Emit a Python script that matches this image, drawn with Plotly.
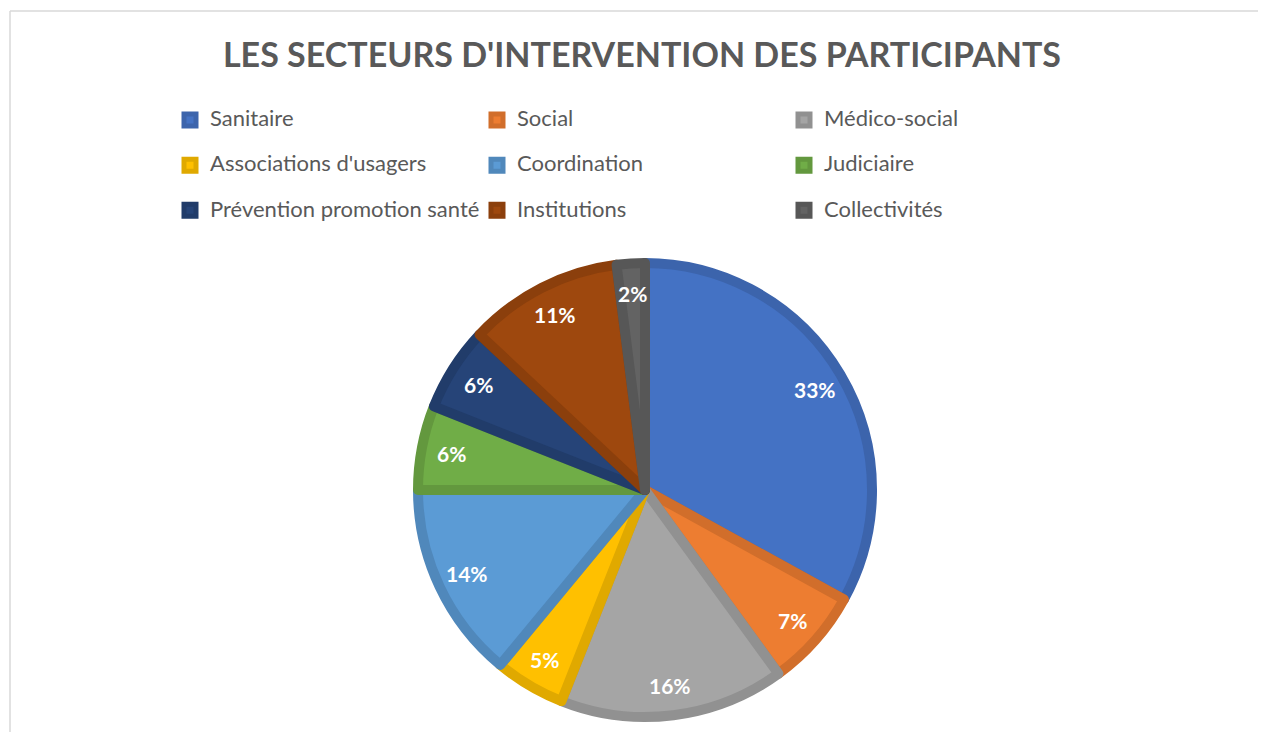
import math
import plotly.graph_objects as go

# ---- data ----
labels = ["Sanitaire", "Social", "Médico-social", "Associations d'usagers",
          "Coordination", "Judiciaire", "Prévention promotion santé",
          "Institutions", "Collectivités"]
values = [33, 7, 16, 5, 14, 6, 6, 11, 2]
fill_colors = ["#4472C4", "#ED7D31", "#A5A5A5", "#FFC000", "#5B9BD5",
               "#70AD47", "#264478", "#9E480E", "#636363"]
edge_colors = ["#3C64AC", "#D16E2B", "#919191", "#E0A900", "#5088BB",
               "#63983E", "#213C6A", "#8B3F0C", "#575757"]
title_text = "LES SECTEURS D'INTERVENTION DES PARTICIPANTS"

# ---- layout geometry (page pixels; the HTML body adds an 8px margin) ----
OFF = 8
W, H = 1266 - 2 * OFF, 740 - 2 * OFF
ML, MR, MT, MB = 133, 133, 0, 0
PW, PH = W - ML - MR, H - MT - MB
CX, CY = 645, 490          # pie centre (page px)
EDGE = 10                   # slice border width
RP = 227                    # path radius (border extends EDGE/2 outside)
R_OUT = RP + EDGE / 2
LABEL_R = 0.85 * R_OUT


def px_x(p):
    return (p - OFF - ML) / PW


def px_y(p):
    return 1 - (p - OFF - MT) / PH


legend_labels = ['<span style="font-size:22px">%s</span><br>\u00a0' % l for l in labels]

fig = go.Figure(go.Pie(
    labels=legend_labels,
    values=values,
    customdata=labels,
    sort=False,
    direction="clockwise",
    rotation=0,
    textinfo="none",
    hovertemplate="%{customdata}: %{percent}<extra></extra>",
    marker=dict(colors=fill_colors, line=dict(color=edge_colors, width=EDGE)),
    domain=dict(x=[px_x(CX - RP), px_x(CX + RP)], y=[px_y(CY + RP), px_y(CY - RP)]),
))

# percentage labels placed along each slice's mid-angle
total = sum(values)
annotations = []
cum = 0
for v in values:
    mid = (cum + v / 2) / total * 2 * math.pi
    cum += v
    x = CX + LABEL_R * math.sin(mid)
    y = CY - LABEL_R * math.cos(mid)
    annotations.append(dict(
        x=px_x(x), y=px_y(y), xref="paper", yref="paper",
        text="%d%%" % round(v / total * 100), showarrow=False,
        font=dict(family="Lato", size=21, color="white", weight="bold"),
        xanchor="center", yanchor="middle"))

frame = dict(color="#D9D9D9", width=1.5)
fig.update_layout(
    width=W, height=H,
    margin=dict(l=ML, r=MR, t=MT, b=MB),
    paper_bgcolor="white",
    plot_bgcolor="white",
    font=dict(family="Lato", color="#595959"),
    title=dict(text=title_text, x=(642 - OFF) / W, xanchor="center",
               y=1 - (55 - OFF) / H, yanchor="middle",
               font=dict(family="Lato", size=34, color="#595959", weight="bold")),
    showlegend=True,
    legend=dict(orientation="h", x=px_x(170), xanchor="left",
                y=px_y(103), yanchor="top",
                entrywidth=262, valign="top",
                font=dict(family="Lato", size=16.2, color="#595959"),
                traceorder="normal"),
    annotations=annotations,
    shapes=[
        dict(type="line", xref="paper", yref="paper",
             x0=px_x(10), x1=px_x(1300), y0=px_y(11), y1=px_y(11), line=frame),
        dict(type="line", xref="paper", yref="paper",
             x0=px_x(10), x1=px_x(10), y0=px_y(11), y1=px_y(780), line=frame),
    ],
)

fig.write_html("out.html")
